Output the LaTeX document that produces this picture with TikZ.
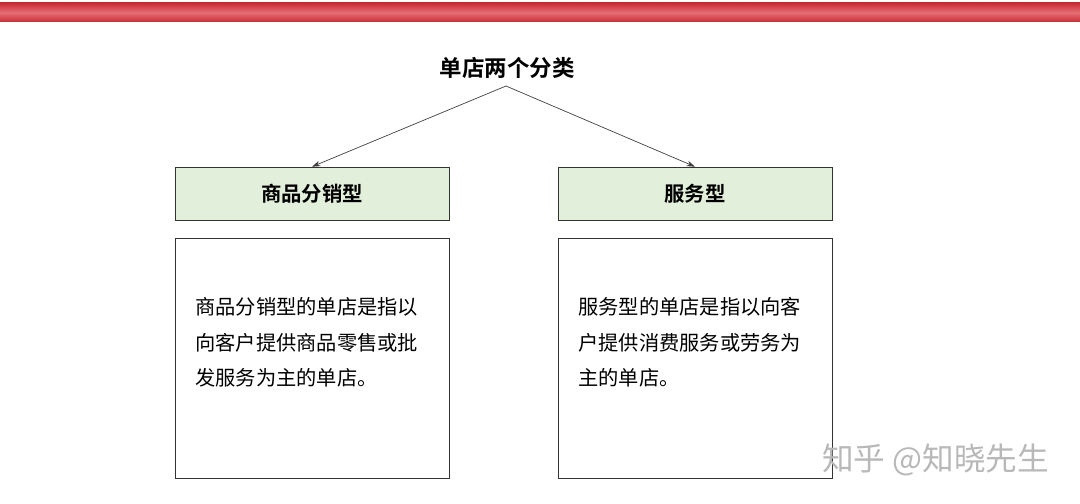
\documentclass[tikz,border=0pt]{standalone}
\usepackage{fontspec}
\setmainfont{Noto Sans CJK SC}
\newfontfamily\cjkbold{Noto Sans CJK SC Bold}
\usetikzlibrary{arrows.meta, positioning, calc}

\definecolor{barred}{RGB}{200,45,55}
\definecolor{barlight}{RGB}{230,110,115}
\definecolor{kindgreen}{RGB}{226,239,218}

\begin{document}
\begin{tikzpicture}[x=0.025cm, y=-0.025cm,
		kindbox/.style={draw=black!80, fill=kindgreen, minimum width=6.85cm, minimum height=1.325cm, inner sep=0pt, font=\fontsize{14.5}{16}\cjkbold},
		textbox/.style={draw=black!80, fill=white, minimum width=6.85cm, minimum height=6cm, inner sep=0pt},
		bodytext/.style={align=left, anchor=north west, inner sep=0pt, font=\fontsize{14.4}{25.4}\selectfont},
		pointer/.style={-{Stealth[length=6pt, width=4pt]}, black!75, line width=0.5pt}]
	\useasboundingbox (0,0) rectangle (1080,504);
	% red bar on top
	\shade[top color=barred, bottom color=barred, middle color=barlight] (0,3) rectangle (1080,22);
	
	% title
	\node[font=\fontsize{16}{18}\cjkbold, inner sep=0pt] (title) at (507,68) {单店两个分类};
	\coordinate (fork) at (506,86);
	
	% the two kinds
	\node[kindbox] (goods) at (312,193.5) {商品分销型};
	\node[kindbox] (service) at (695,193.5) {服务型};
	\draw [pointer] (fork) -- (goods.north);
	\draw [pointer] (fork) -- (service.north);
	
	% descriptions
	\node[textbox, below=12.8pt of goods.south, anchor=north] (goodsdesc) {};
	\node[textbox, below=12.8pt of service.south, anchor=north] (servicedesc) {};
	\node[bodytext] (goodstext) at (195,297) {商品分销型的单店是指以\\向客户提供商品零售或批\\发服务为主的单店。};
	\node[bodytext] (servicetext) at (578,297) {服务型的单店是指以向客\\户提供消费服务或劳务为\\主的单店。};
	
	% watermark
	\node[anchor=west, text=black!28, font=\fontsize{22.5}{26}\selectfont, inner sep=0pt] (mark) at (822,460) {知乎 @知晓先生};
\end{tikzpicture}
\end{document}
